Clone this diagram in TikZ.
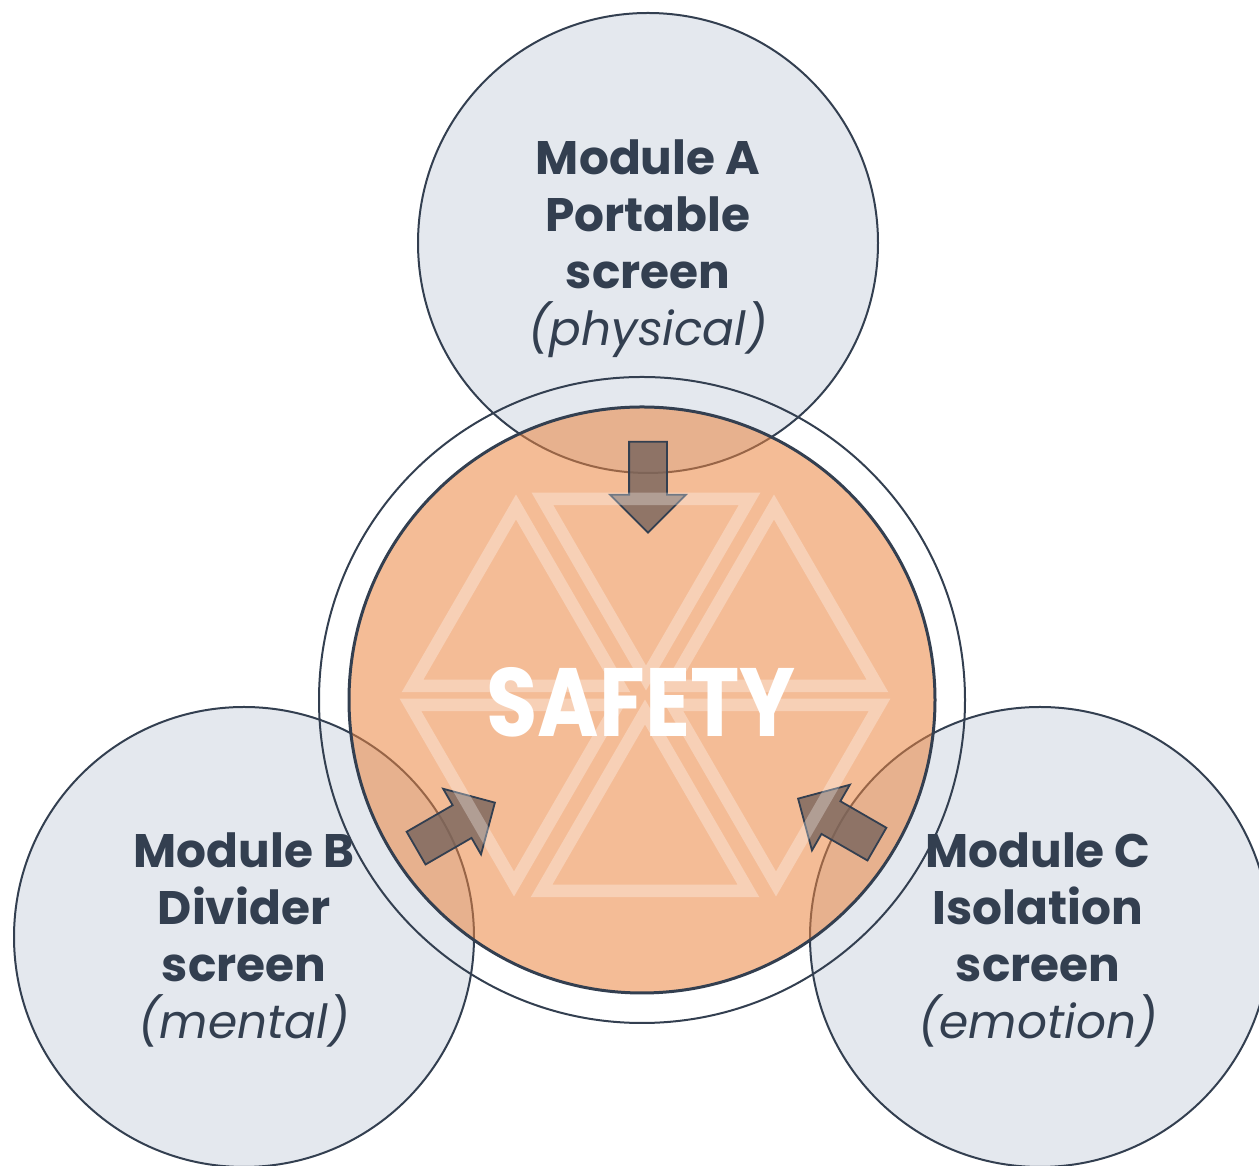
\documentclass[tikz,border=0pt]{standalone}
\usepackage{fontspec}
\setmainfont{Poppins}
\usetikzlibrary{shapes.arrows}
\definecolor{navy}{HTML}{333F50}
\definecolor{cloud}{HTML}{E4E8EE}
\definecolor{peach}{RGB}{235,133,64}
\definecolor{mocha}{RGB}{120,100,92}
\begin{document}
\begin{tikzpicture}[x=1pt,y=1pt]
    \tikzstyle{module}=[circle, fill=cloud, draw=navy, line width=2pt, minimum size=460pt, inner sep=0pt]
    \tikzstyle{ring}=[circle, draw=navy, line width=2pt, minimum size=646pt, inner sep=0pt]
    \tikzstyle{core}=[circle, fill=peach, fill opacity=0.55, draw=navy, line width=3pt, minimum size=586pt, inner sep=0pt]
    \tikzstyle{push}=[single arrow, anchor=tip, fill=mocha, fill opacity=0.8, draw=navy, line width=1.8pt, minimum height=91pt, inner xsep=0pt, inner ysep=18pt, single arrow head extend=19pt]
    \tikzstyle{tri}=[white, opacity=0.3, line width=12.5pt]
    \tikzstyle{modtext}=[text=navy, align=center, font=\fontsize{47}{57}\selectfont\bfseries]
    \useasboundingbox (0,0) rectangle (1259,1166);
    \clip (0,0) rectangle (1259,1166);
    % the three modules
    \node[module] (modA) at (648,923) {};
    \node[module] (modB) at (244,229) {};
    \node[module] (modC) at (1040,229) {};
    % safety core
    \node[ring] (ring) at (642,466) {};
    \node[core] (core) at (642,466) {};
    \node[push, rotate=-90] (arrA) at (648,632) {};
    \node[push, rotate=30] (arrB) at (496,364) {};
    \node[push, rotate=150] (arrC) at (797,368) {};
    \foreach \cx/\by/\dir in {516/480/1, 646/667/-1, 774/480/1, 514/461/-1, 645/275/1, 776/461/-1}
      \draw[tri] (\cx-103.5,\by) -- (\cx+103.5,\by) -- (\cx,\by+\dir*179) -- cycle;
    \node[text=white, font=\fontsize{97}{97}\selectfont\bfseries] (title) at (641,464) {\scalebox{0.86}[1]{SAFETY}};
    % labels
    \node[modtext] (txtA) at (648,917) {Module A\\Portable\\screen\\{\mdseries\itshape (physical)}};
    \node[modtext] (txtB) at (244,226) {Module B\\Divider\\screen\\{\mdseries\itshape (mental)}};
    \node[modtext] (txtC) at (1038,226) {Module C\\Isolation\\screen\\{\mdseries\itshape (emotion)}};
\end{tikzpicture}
\end{document}
